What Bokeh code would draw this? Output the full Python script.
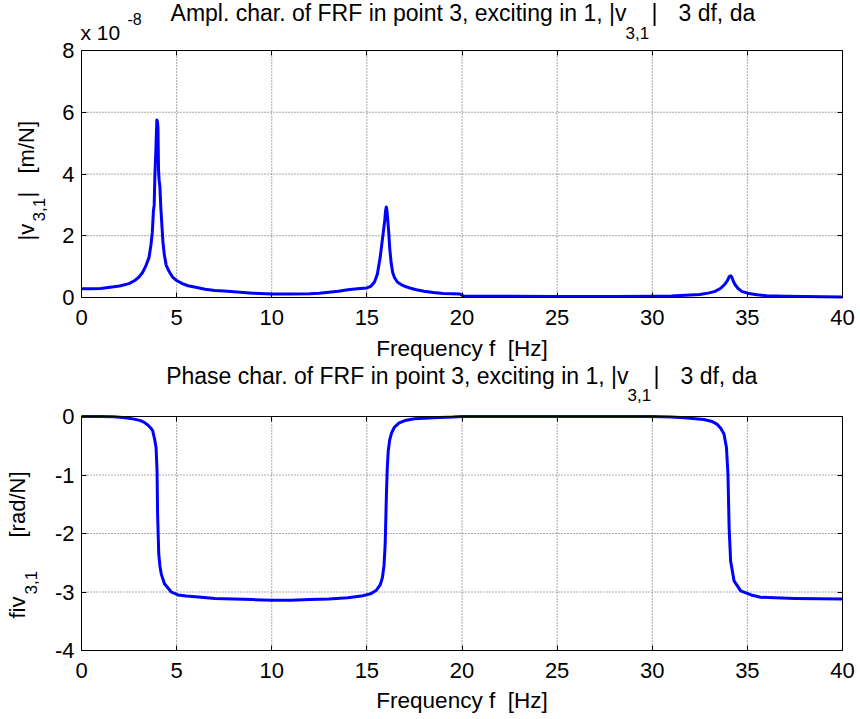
import math
from bokeh.plotting import figure
from bokeh.models import Label, Range1d, LinearAxis, FixedTicker
from bokeh.layouts import column
from bokeh.embed import file_html
from bokeh.resources import INLINE

# ---------------- data ----------------
# amplitude characteristic |v_3,1| in units of 1e-8 m/N
freq_amp = [0, 0.5, 1.0, 1.5, 2.0, 2.5, 2.8, 3.0, 3.2, 3.4, 3.55, 3.65, 3.72, 3.78,
            3.82, 3.86, 3.9, 3.93, 3.96, 3.99, 4.02, 4.05, 4.08, 4.12, 4.17, 4.22,
            4.28, 4.35, 4.45, 4.6, 4.8, 5.0, 5.3, 5.6, 6.0, 6.5, 7.0, 7.5, 8.0, 9.0,
            10.0, 11.0, 12.0, 12.5, 13.0, 13.5, 14.0, 14.5, 15.0, 15.2, 15.4, 15.55,
            15.7, 15.8, 15.88, 15.94, 15.98, 16.02, 16.06, 16.1, 16.15, 16.2, 16.28,
            16.36, 16.45, 16.6, 16.8, 17.0, 17.3, 17.6, 18.0, 18.5, 19.0, 19.5, 19.9,
            20.1, 22.0, 25.0, 28.0, 30.0, 31.0, 32.0, 32.5, 33.0, 33.3, 33.6, 33.8,
            33.95, 34.05, 34.12, 34.18, 34.25, 34.35, 34.5, 34.7, 35.0, 35.5, 36.0,
            37.0, 38.0, 40.0]
amp_1e8 = [0.28, 0.28, 0.29, 0.33, 0.37, 0.45, 0.55, 0.65, 0.8, 1.05, 1.3, 1.7, 2.1, 2.8,
           3.0, 4.0, 4.6, 5.2, 5.75, 5.7, 5.5, 4.1, 3.8, 3.6, 2.9, 2.4,
           1.8, 1.4, 1.05, 0.85, 0.65, 0.55, 0.45, 0.38, 0.33, 0.27, 0.23, 0.21, 0.19, 0.14,
           0.11, 0.11, 0.12, 0.14, 0.17, 0.2, 0.25, 0.28, 0.31, 0.36, 0.5, 0.75,
           1.3, 1.8, 2.2, 2.5, 2.8, 2.93, 2.8, 2.5, 2.1, 1.6, 1.1,
           0.8, 0.65, 0.5, 0.42, 0.36, 0.3, 0.25, 0.2, 0.16, 0.13, 0.12, 0.11,
           0.04, 0.04, 0.03, 0.03, 0.04, 0.05, 0.08, 0.1, 0.15, 0.2, 0.3, 0.42,
           0.55, 0.68, 0.7, 0.66, 0.55, 0.42, 0.3, 0.2, 0.14, 0.09, 0.06,
           0.04, 0.03, 0.02]

# phase characteristic fiv_3,1 [rad/N]
freq_ph = [0, 1.0, 1.7, 2.3, 2.77, 3.1, 3.3, 3.5, 3.65, 3.74, 3.85, 3.92, 3.97, 4.0,
           4.06, 4.12, 4.19, 4.36, 4.72, 5.07, 5.5, 6.3, 7.0, 8.0, 9.0, 10.0, 11.0,
           12.0, 13.0, 14.0, 14.7, 15.2, 15.5, 15.7, 15.82, 15.9, 15.96, 16.0, 16.03,
           16.07, 16.12, 16.2, 16.3, 16.45, 16.7, 17.0, 17.5, 18.5, 19.5, 20.0, 25.0,
           30.0, 31.0, 31.7, 32.7, 33.1, 33.4, 33.6, 33.77, 33.9, 33.98, 34.04, 34.12,
           34.3, 34.65, 35.2, 35.7, 37.5, 40.0]
phase = [0.0, 0.0, -0.006, -0.02, -0.045, -0.07, -0.1, -0.15, -0.2, -0.24, -0.4, -0.53, -0.93, -1.67,
         -2.35, -2.55, -2.69, -2.86, -3.0, -3.05, -3.07, -3.09, -3.11, -3.12, -3.13, -3.14, -3.14,
         -3.13, -3.12, -3.1, -3.07, -3.03, -2.97, -2.88, -2.75, -2.55, -2.2, -1.7, -1.3,
         -0.9, -0.6, -0.4, -0.28, -0.18, -0.11, -0.07, -0.04, -0.02, -0.01, 0.0, 0.0,
         0.0, -0.01, -0.02, -0.05, -0.08, -0.13, -0.2, -0.3, -0.53, -0.99, -1.9, -2.47,
         -2.81, -2.98, -3.05, -3.09, -3.11, -3.12]

x_ticks = [0, 5, 10, 15, 20, 25, 30, 35, 40]
amp_ticks = [0, 2, 4, 6, 8]
ph_ticks = [-4, -3, -2, -1, 0]

title_amp = "Ampl. char. of FRF in point 3, exciting in 1, |v"
title_ph = "Phase char. of FRF in point 3, exciting in 1, |v"
sub_txt = "3,1"
title_tail = "3 df, da"
xlabel = "Frequency f\u00a0 [Hz]"

FONT = "Liberation Sans"
BLUE = "#0000FF"
HALF = math.pi / 2
W = 860
BOX_L, BOX_R = 81, 842          # plot box, page pixels
SHIFT = 0.4                     # baseline correction, in em


def style_axis(ax, ticks, show_labels, standoff=12):
    ax.ticker = FixedTicker(ticks=ticks)
    ax.axis_line_color = "black"
    ax.axis_line_width = 1
    ax.major_tick_line_color = "black"
    ax.major_tick_in = 5
    ax.major_tick_out = 0
    ax.minor_tick_line_color = None
    ax.major_label_text_font = FONT
    ax.major_label_text_color = "black"
    if show_labels:
        ax.major_label_text_font_size = "22px"
        ax.major_label_standoff = standoff
        ax.major_label_overrides = {t: str(t) for t in ticks}
    else:
        ax.major_label_text_font_size = "0px"
        ax.major_label_standoff = 0
        ax.major_label_overrides = {t: "" for t in ticks}


def make_fig(height, box_top, box_bottom, ymin, ymax, yticks):
    # frame covers the whole canvas; ranges chosen so that the data box lands
    # on the plot box (box_top/box_bottom are local pixel rows)
    xs = (BOX_R - BOX_L) / 40.0
    ys = (box_bottom - box_top) / float(ymax - ymin)
    p = figure(width=W, height=height, output_backend="svg", toolbar_location=None,
               title=None, x_axis_type=None, y_axis_type=None, min_border=0,
               x_range=Range1d(0 - BOX_L / xs, 40 + (W - BOX_R) / xs),
               y_range=Range1d(ymin - (height - box_bottom) / ys, ymax + box_top / ys))
    p.min_border_left = 0
    p.min_border_right = 0
    p.min_border_top = 0
    p.min_border_bottom = 0
    p.outline_line_color = None
    p.background_fill_color = "white"
    p.border_fill_color = "white"

    gx = [t for t in x_ticks if 0 < t < 40]
    gy = [t for t in yticks if ymin < t < ymax]
    p.segment(x0=gx, y0=[ymin] * len(gx), x1=gx, y1=[ymax] * len(gx),
              line_color="#555555", line_dash="1 2", line_width=1)
    p.segment(x0=[0] * len(gy), y0=gy, x1=[40] * len(gy), y1=gy,
              line_color="#555555", line_dash="1 2", line_width=1)

    xb = LinearAxis(fixed_location=ymin, bounds=(0, 40))
    style_axis(xb, x_ticks, True, 12)
    p.add_layout(xb, "below")
    xt = LinearAxis(fixed_location=ymax, bounds=(0, 40))
    style_axis(xt, x_ticks, False)
    p.add_layout(xt, "above")
    yl = LinearAxis(fixed_location=0, bounds=(ymin, ymax))
    style_axis(yl, yticks, True, 7)
    p.add_layout(yl, "left")
    yr = LinearAxis(fixed_location=40, bounds=(ymin, ymax))
    style_axis(yr, yticks, False)
    p.add_layout(yr, "right")
    return p


def lab(p, text, x, y, size, align="left", rotated=False):
    # x, y: wanted baseline anchor in canvas pixels (y measured upwards)
    if rotated:
        x = x - SHIFT * size
    else:
        y = y + SHIFT * size
    p.add_layout(Label(x=x, y=y, x_units="screen", y_units="screen", text=text,
                       text_font=FONT, text_font_size="%gpx" % size, text_align=align,
                       text_baseline="alphabetic", angle=HALF if rotated else 0.0,
                       text_color="black"))


# ---------------- top: amplitude (page y 0..364) ----------------
H1 = 364
p1 = make_fig(H1, 50, 297, 0, 8, amp_ticks)
p1.line(freq_amp, amp_1e8, line_color=BLUE, line_width=3, line_join="round")
lab(p1, title_amp, 626, H1 - 22, 23, align="right")
lab(p1, sub_txt, 625, H1 - 39, 17)
lab(p1, "|", 651, H1 - 22, 23)
lab(p1, title_tail, 678, H1 - 22, 23)
lab(p1, "x 10", 80, H1 - 40, 21)
lab(p1, "-8", 127, H1 - 25, 16)
lab(p1, xlabel, (BOX_L + BOX_R) / 2, H1 - 357, 22.5, align="center")
lab(p1, "|v", 35, H1 - 240, 22, rotated=True)
lab(p1, sub_txt, 45, H1 - 221, 17, rotated=True)
lab(p1, "|", 35, H1 - 197, 22, rotated=True)
lab(p1, "[m/N]", 35, H1 - 173, 22, rotated=True)

# ---------------- bottom: phase (page y 364..716) ----------------
TOP2 = 364
H2 = 352
p2 = make_fig(H2, 416 - TOP2, 650 - TOP2, -4, 0, ph_ticks)
p2.line(freq_ph, phase, line_color=BLUE, line_width=3, line_join="round")
lab(p2, title_ph, 628, TOP2 + H2 - 385, 23, align="right")
lab(p2, sub_txt, 627, TOP2 + H2 - 401, 17)
lab(p2, "|", 653, TOP2 + H2 - 385, 23)
lab(p2, title_tail, 680, TOP2 + H2 - 385, 23)
lab(p2, xlabel, (BOX_L + BOX_R) / 2, TOP2 + H2 - 709, 22.5, align="center")
lab(p2, "fiv", 25.5, TOP2 + H2 - 618, 22, rotated=True)
lab(p2, sub_txt, 37.5, TOP2 + H2 - 594, 17, rotated=True)
lab(p2, "[rad/N]", 25.5, TOP2 + H2 - 537, 22, rotated=True)

layout = column(p1, p2, spacing=0)
open("out.html", "w").write(file_html(layout, INLINE))
